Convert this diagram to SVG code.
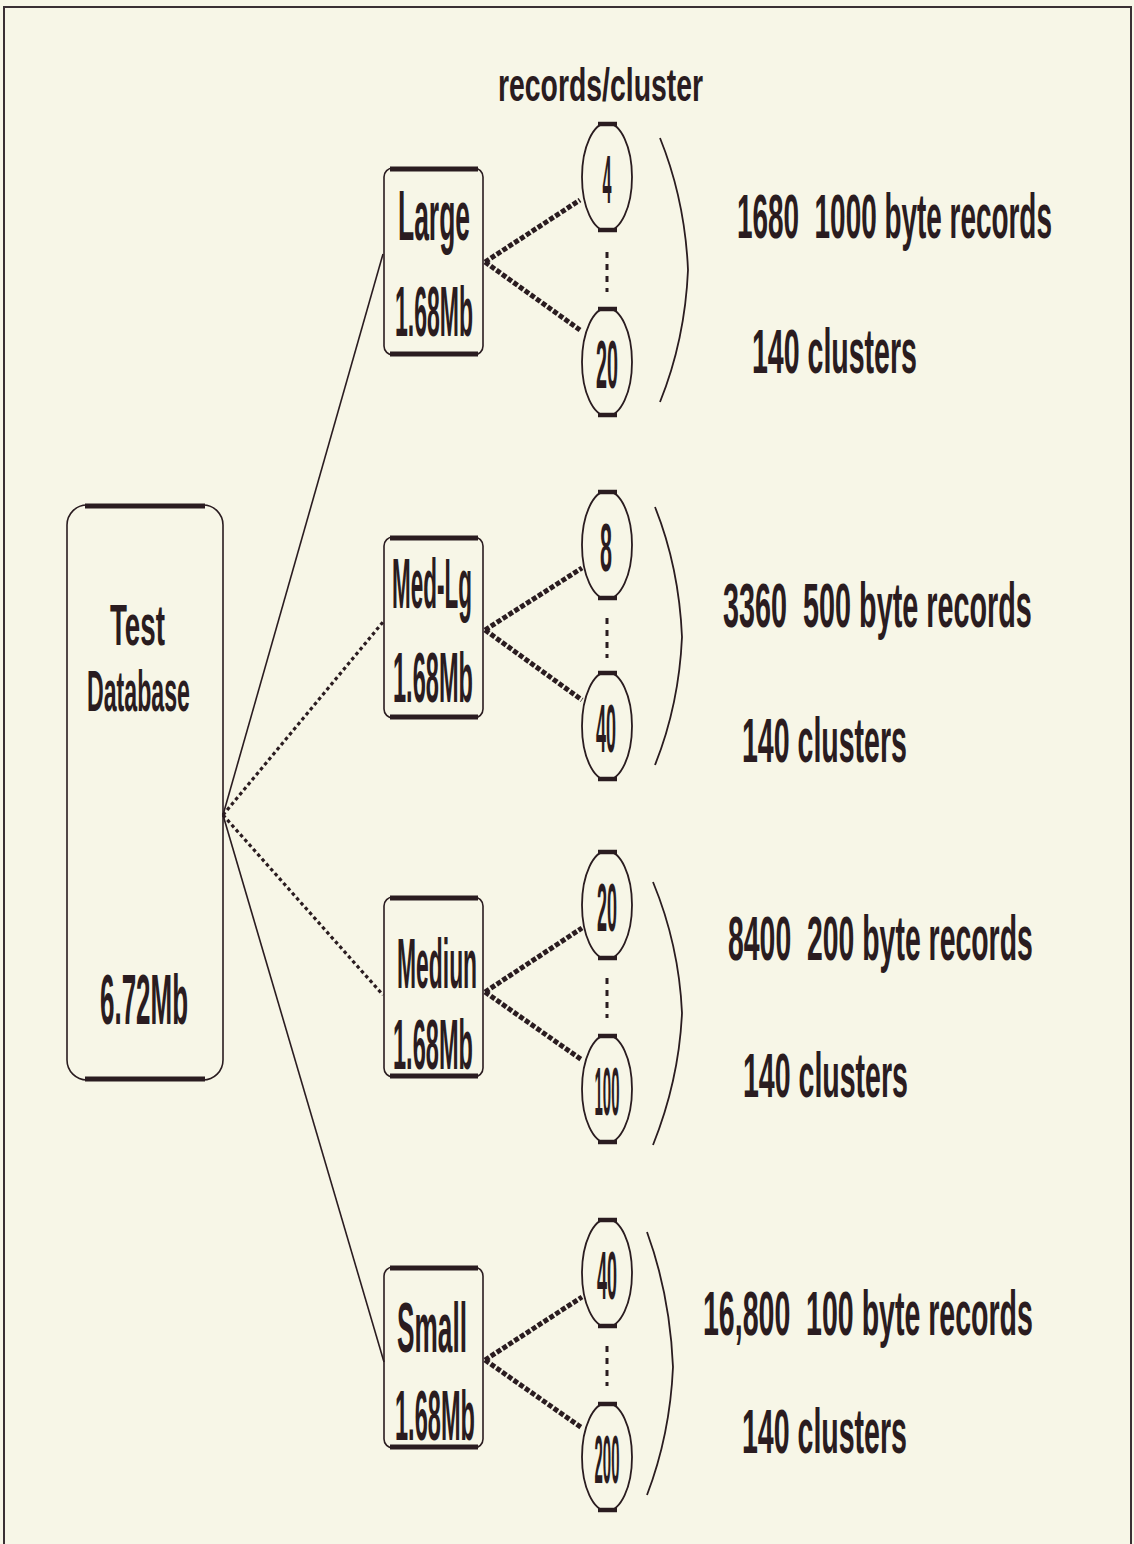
<svg xmlns="http://www.w3.org/2000/svg" width="1134" height="1544" viewBox="0 0 1134 1544">
<style>
.bg{fill:#f7f6e7}
.frame{fill:none;stroke:#3a3034;stroke-width:2}
.box{fill:none;stroke:#2a1c20;stroke-width:1.6}
.bar{stroke:#2a1c20;stroke-width:5;stroke-linecap:butt}
.ell{fill:none;stroke:#2a1c20;stroke-width:1.8}
.cbar{stroke:#2a1c20;stroke-width:4.5}
.t{font-family:"Liberation Sans",Arial,sans-serif;fill:#2a1c20;font-weight:bold}
.big{font-size:70px}
.tdb{font-size:58px}
.mid{font-size:63px}
.hdr{font-size:46px}
.num{font-size:68px;text-anchor:middle}
.fan{fill:none;stroke:#2a1c20;stroke-width:1.6}
.fand{fill:none;stroke:#2a1c20;stroke-width:3.2;stroke-dasharray:3.5 3}
.con{fill:none;stroke:#2a1c20;stroke-width:5;stroke-dasharray:5 2}
.dots{fill:none;stroke:#2a1c20;stroke-width:3;stroke-dasharray:6 6}
.brk{fill:none;stroke:#2a1c20;stroke-width:1.8}
</style>
<rect class="bg" x="0" y="0" width="1134" height="1544"/>
<path class="frame" d="M4,1560 V7 H1131 V1560"/>

<text class="t hdr" transform="translate(498,101) scale(0.617,1)">records/cluster</text>

<g id="connectors">
  <line class="fan" x1="223" y1="815" x2="383" y2="254"/>
  <line class="fand" x1="223" y1="815" x2="383" y2="622"/>
  <line class="fand" x1="223" y1="815" x2="383" y2="995"/>
  <line class="fan" x1="223" y1="815" x2="384" y2="1362"/>
  <polyline class="con" points="485,262 580,200"/>
  <polyline class="con" points="485,262 580,330"/>
  <polyline class="con" points="485,630 582,568"/>
  <polyline class="con" points="485,630 582,700"/>
  <polyline class="con" points="485,992 582,928"/>
  <polyline class="con" points="485,992 582,1060"/>
  <polyline class="con" points="485,1360 582,1297"/>
  <polyline class="con" points="485,1360 582,1428"/>
  <line class="dots" x1="607" y1="252" x2="607" y2="292"/>
  <line class="dots" x1="607" y1="618" x2="607" y2="658"/>
  <line class="dots" x1="607" y1="978" x2="607" y2="1018"/>
  <line class="dots" x1="607" y1="1346" x2="607" y2="1386"/>
</g>

<g id="test-database">
  <rect class="box" x="67" y="505" width="156" height="575" rx="20"/>
  <line class="bar" x1="85" y1="506" x2="205" y2="506"/>
  <line class="bar" x1="85" y1="1079" x2="205" y2="1079"/>
  <text class="t tdb" transform="translate(110,645) scale(0.478,1)">Test</text>
  <text class="t tdb" transform="translate(87,711) scale(0.399,1)">Database</text>
  <text class="t big" transform="translate(100,1024) scale(0.371,1)">6.72Mb</text>
</g>

<g id="large">
  <rect class="box" x="384" y="168" width="99" height="187" rx="9"/>
  <line class="bar" x1="390" y1="169" x2="478" y2="169"/>
  <line class="bar" x1="390" y1="354" x2="478" y2="354"/>
  <text class="t big" transform="translate(398,240) scale(0.378,1)">Large</text>
  <text class="t big" transform="translate(395,336) scale(0.329,1)">1.68Mb</text>
</g>
<g id="medlg">
  <rect class="box" x="384" y="537" width="99" height="181" rx="9"/>
  <line class="bar" x1="390" y1="538" x2="478" y2="538"/>
  <line class="bar" x1="390" y1="717" x2="478" y2="717"/>
  <text class="t big" transform="translate(392,608) scale(0.321,1)">Med-Lg</text>
  <text class="t big" transform="translate(393,702) scale(0.337,1)">1.68Mb</text>
</g>
<g id="medium">
  <rect class="box" x="384" y="897" width="99" height="180" rx="9"/>
  <line class="bar" x1="390" y1="898" x2="478" y2="898"/>
  <line class="bar" x1="390" y1="1076" x2="478" y2="1076"/>
  <text class="t big" transform="translate(397,988) scale(0.327,1)">Mediun</text>
  <text class="t big" transform="translate(393,1069) scale(0.337,1)">1.68Mb</text>
</g>
<g id="small">
  <rect class="box" x="384" y="1267" width="99" height="181" rx="9"/>
  <line class="bar" x1="390" y1="1268" x2="478" y2="1268"/>
  <line class="bar" x1="390" y1="1447" x2="478" y2="1447"/>
  <text class="t big" transform="translate(397,1352) scale(0.375,1)">Small</text>
  <text class="t big" transform="translate(395,1440) scale(0.337,1)">1.68Mb</text>
</g>

<g id="c-large-4">
  <ellipse class="ell" cx="607" cy="177" rx="25" ry="54"/>
  <line class="cbar" x1="598" y1="124" x2="617" y2="124"/><line class="cbar" x1="598" y1="230" x2="617" y2="230"/>
  <text class="t num" transform="translate(607,203) scale(0.238,1)">4</text>
</g>
<g id="c-large-20">
  <ellipse class="ell" cx="607" cy="362" rx="25" ry="54"/>
  <line class="cbar" x1="598" y1="309" x2="617" y2="309"/><line class="cbar" x1="598" y1="415" x2="617" y2="415"/>
  <text class="t num" transform="translate(607,388) scale(0.291,1)">20</text>
</g>
<g id="c-medlg-8">
  <ellipse class="ell" cx="607" cy="545" rx="25" ry="54"/>
  <line class="cbar" x1="598" y1="492" x2="617" y2="492"/><line class="cbar" x1="598" y1="598" x2="617" y2="598"/>
  <text class="t num" transform="translate(606,571) scale(0.317,1)">8</text>
</g>
<g id="c-medlg-40">
  <ellipse class="ell" cx="607" cy="726" rx="25" ry="54"/>
  <line class="cbar" x1="598" y1="673" x2="617" y2="673"/><line class="cbar" x1="598" y1="779" x2="617" y2="779"/>
  <text class="t num" transform="translate(606,752) scale(0.265,1)">40</text>
</g>
<g id="c-medium-20">
  <ellipse class="ell" cx="607" cy="905" rx="25" ry="54"/>
  <line class="cbar" x1="598" y1="852" x2="617" y2="852"/><line class="cbar" x1="598" y1="958" x2="617" y2="958"/>
  <text class="t num" transform="translate(607,931) scale(0.265,1)">20</text>
</g>
<g id="c-medium-100">
  <ellipse class="ell" cx="607" cy="1089" rx="25" ry="54"/>
  <line class="cbar" x1="598" y1="1036" x2="617" y2="1036"/><line class="cbar" x1="598" y1="1142" x2="617" y2="1142"/>
  <text class="t num" transform="translate(607,1115) scale(0.22,1)">100</text>
</g>
<g id="c-small-40">
  <ellipse class="ell" cx="607" cy="1273" rx="25" ry="54"/>
  <line class="cbar" x1="598" y1="1220" x2="617" y2="1220"/><line class="cbar" x1="598" y1="1326" x2="617" y2="1326"/>
  <text class="t num" transform="translate(607,1299) scale(0.265,1)">40</text>
</g>
<g id="c-small-200">
  <ellipse class="ell" cx="607" cy="1457" rx="25" ry="54"/>
  <line class="cbar" x1="598" y1="1404" x2="617" y2="1404"/><line class="cbar" x1="598" y1="1510" x2="617" y2="1510"/>
  <text class="t num" transform="translate(607,1483) scale(0.22,1)">200</text>
</g>

<g id="bracket-large"><path class="brk" d="M660,138 Q685,200 688,270 Q685,340 660,402"/></g>
<g id="bracket-medlg"><path class="brk" d="M655,507 Q679,567 682,637 Q679,705 655,765"/></g>
<g id="bracket-medium"><path class="brk" d="M653,882 Q679,945 682,1013 Q679,1080 653,1145"/></g>
<g id="bracket-small"><path class="brk" d="M647,1232 Q670,1295 673,1367 Q670,1435 647,1495"/></g>

<g id="label-large">
  <text class="t mid" transform="translate(737,238) scale(0.443,1)" xml:space="preserve">1680  1000 byte records</text>
  <text class="t mid" transform="translate(752,373) scale(0.453,1)">140 clusters</text>
</g>
<g id="label-medlg">
  <text class="t mid" transform="translate(723,627) scale(0.457,1)" xml:space="preserve">3360  500 byte records</text>
  <text class="t mid" transform="translate(742,762) scale(0.453,1)">140 clusters</text>
</g>
<g id="label-medium">
  <text class="t mid" transform="translate(728,960) scale(0.451,1)" xml:space="preserve">8400  200 byte records</text>
  <text class="t mid" transform="translate(743,1097) scale(0.453,1)">140 clusters</text>
</g>
<g id="label-small">
  <text class="t mid" transform="translate(703,1335) scale(0.453,1)" xml:space="preserve">16,800  100 byte records</text>
  <text class="t mid" transform="translate(742,1453) scale(0.453,1)">140 clusters</text>
</g>
</svg>
